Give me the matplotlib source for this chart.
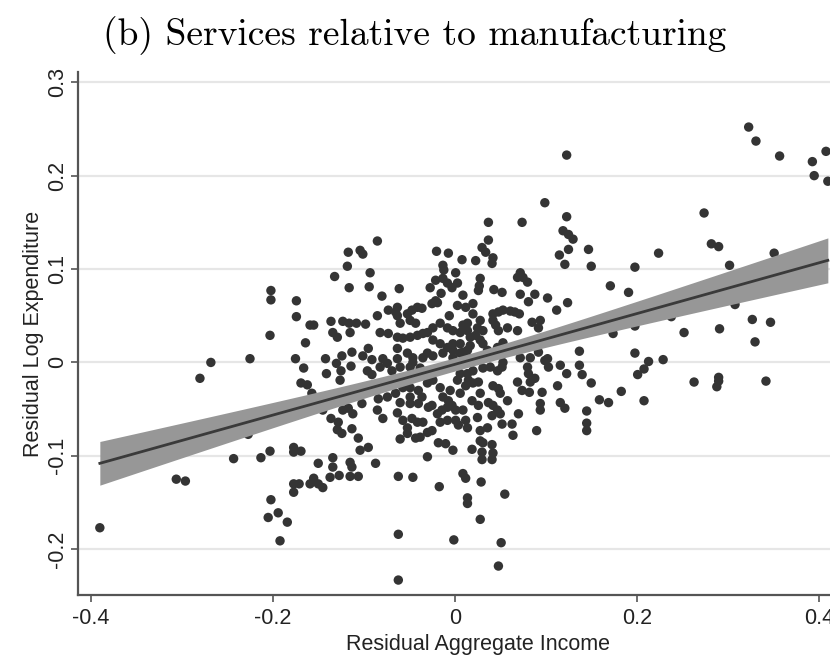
import numpy as np
import matplotlib
matplotlib.use("Agg")
import matplotlib.pyplot as plt

# ---- data ----
income = [
 -0.202,-0.202,-0.174,-0.174,-0.159,-0.203,-0.164,-0.268,-0.225,-0.175,
 -0.166,-0.280,-0.169,-0.162,-0.227,-0.203,-0.213,-0.243,-0.177,-0.177,
 -0.169,-0.306,-0.296,-0.177,-0.171,-0.177,-0.159,-0.202,-0.194,-0.205,
 -0.184,-0.192,-0.390,
 -0.085,-0.117,-0.104,-0.101,-0.020,-0.007,0.008,-0.118,-0.013,-0.012,
 0.001,-0.132,-0.093,-0.116,-0.094,-0.061,-0.027,-0.021,-0.013,-0.008,
 -0.003,0.003,-0.015,-0.021,-0.025,0.009,0.012,-0.080,-0.155,-0.136,
 -0.134,-0.129,-0.123,-0.116,-0.108,-0.098,-0.115,-0.085,-0.073,-0.065,
 -0.063,-0.052,-0.047,-0.041,-0.036,-0.049,-0.043,-0.019,-0.006,-0.082,
 -0.073,-0.063,-0.057,-0.049,-0.041,-0.035,-0.030,-0.016,-0.008,-0.002,
 0.006,0.014,0.014,-0.024,-0.016,-0.008,-0.002,0.006,-0.142,-0.124,
 -0.113,-0.101,-0.095,-0.079,-0.063,-0.046,-0.030,-0.130,-0.091,-0.141,
 -0.125,-0.114,-0.126,-0.096,-0.091,-0.082,-0.074,-0.069,-0.046,-0.035,
 -0.024,-0.013,-0.002,0.009,-0.157,-0.145,-0.136,-0.123,-0.117,-0.112,
 -0.102,-0.128,-0.124,-0.129,-0.113,-0.106,-0.095,-0.104,-0.087,-0.085,
 -0.079,-0.084,-0.074,-0.065,-0.060,-0.063,-0.057,-0.052,-0.047,-0.041,
 -0.035,-0.049,-0.040,-0.036,-0.060,-0.052,-0.043,-0.038,-0.030,-0.025,
 -0.029,-0.025,-0.019,-0.014,-0.030,-0.024,-0.016,-0.049,-0.040,-0.013,
 -0.007,-0.003,-0.008,0.001,-0.016,-0.008,0.001,0.004,0.009,0.014,
 -0.018,-0.010,-0.002,-0.030,-0.150,-0.134,-0.134,-0.115,-0.113,-0.155,
 -0.150,-0.145,-0.137,-0.127,-0.115,-0.106,-0.062,-0.046,-0.017,0.009,
 0.012,0.014,0.014,-0.062,-0.001,-0.062,
 0.123,0.099,0.037,0.074,0.123,0.119,0.125,0.130,0.037,0.125,
 0.147,0.030,0.034,0.042,0.041,0.023,0.115,0.121,0.150,0.028,
 0.027,0.026,0.072,0.075,0.069,0.080,0.171,0.191,0.043,0.052,
 0.072,0.081,0.088,0.102,0.124,0.112,0.020,0.020,0.028,0.025,
 0.042,0.048,0.053,0.061,0.066,0.071,0.042,0.045,0.048,0.058,
 0.069,0.085,0.094,0.092,0.009,0.017,0.023,0.028,0.031,0.006,
 0.014,0.009,0.174,0.137,0.072,0.083,0.092,0.102,0.017,0.028,
 0.009,0.031,0.039,0.052,0.053,0.080,0.081,0.088,0.083,0.099,
 0.103,0.116,0.123,0.137,0.140,0.150,0.183,0.159,0.169,0.113,
 0.096,0.069,0.074,0.082,0.006,0.014,0.015,0.020,0.026,0.012,
 0.042,0.048,0.050,0.028,0.006,0.019,0.026,0.037,0.042,0.047,
 0.050,0.041,0.012,0.025,0.028,0.036,0.094,0.094,0.116,0.121,
 0.070,0.052,0.063,0.064,0.090,0.145,0.145,0.145,0.028,0.031,
 0.041,0.019,0.030,0.030,0.042,0.041,0.029,0.055,0.028,0.051,
 0.048,
 0.323,0.331,0.357,0.393,0.408,0.395,0.410,0.274,0.282,0.290,
 0.224,0.351,0.198,0.302,0.308,0.238,0.198,0.252,0.291,0.327,
 0.347,0.330,0.198,0.213,0.208,0.201,0.229,0.208,0.263,0.290,
 0.290,0.288,0.342,
 -0.063,-0.060,0.003,-0.024,0.031,-0.063,-0.052,-0.002,0.017,0.036,
 0.047,0.053,-0.060,-0.049,-0.038,-0.057,-0.049,-0.005,0.003,0.020,
 0.047,0.058,
]
expenditure = [
 0.077,0.067,0.066,0.049,0.040,0.029,0.021,0.000,0.004,0.004,
 -0.006,-0.017,-0.022,-0.024,-0.077,-0.095,-0.102,-0.103,-0.091,-0.096,
 -0.095,-0.125,-0.127,-0.130,-0.130,-0.139,-0.130,-0.147,-0.161,-0.166,
 -0.171,-0.191,-0.177,
 0.130,0.118,0.120,0.116,0.119,0.117,0.110,0.103,0.104,0.099,
 0.096,0.092,0.096,0.080,0.081,0.079,0.080,0.088,0.090,0.085,
 0.080,0.085,0.074,0.066,0.063,0.072,0.059,0.071,0.040,0.044,
 0.032,0.027,0.044,0.042,0.042,0.041,0.032,0.050,0.056,0.054,
 0.050,0.052,0.056,0.059,0.058,0.045,0.042,0.064,0.050,0.032,
 0.031,0.027,0.026,0.027,0.029,0.031,0.032,0.042,0.037,0.034,
 0.032,0.034,0.042,0.024,0.020,0.016,0.013,0.010,0.004,0.007,
 0.011,0.007,0.015,0.004,0.004,0.005,0.010,-0.001,0.003,-0.012,
 -0.009,-0.004,-0.019,-0.009,-0.013,-0.005,-0.001,-0.009,0.000,0.005,
 0.007,0.010,0.005,0.011,-0.033,-0.051,-0.060,-0.051,-0.049,-0.055,
 -0.044,-0.064,-0.076,-0.072,-0.071,-0.081,-0.091,-0.094,-0.108,-0.051,
 -0.060,-0.039,-0.037,-0.033,-0.043,-0.054,-0.062,-0.070,-0.060,-0.064,
 -0.064,-0.037,-0.044,-0.037,-0.082,-0.076,-0.081,-0.080,-0.075,-0.073,
 -0.048,-0.046,-0.055,-0.051,-0.022,-0.019,-0.027,-0.027,-0.030,-0.037,
 -0.041,-0.046,-0.048,-0.051,-0.064,-0.062,-0.062,-0.067,-0.051,-0.070,
 -0.086,-0.087,-0.094,-0.101,-0.108,-0.102,-0.112,-0.107,-0.112,-0.124,
 -0.130,-0.134,-0.123,-0.121,-0.122,-0.122,-0.122,-0.123,-0.133,-0.119,
 -0.124,-0.145,-0.151,-0.184,-0.190,-0.233,
 0.222,0.171,0.150,0.150,0.156,0.141,0.137,0.132,0.131,0.121,
 0.121,0.123,0.118,0.112,0.106,0.109,0.115,0.105,0.103,0.090,
 0.082,0.077,0.096,0.091,0.091,0.086,0.082,0.075,0.078,0.075,
 0.073,0.065,0.073,0.069,0.064,0.056,0.063,0.052,0.045,0.037,
 0.052,0.054,0.056,0.055,0.054,0.052,0.045,0.040,0.034,0.037,
 0.034,0.043,0.045,0.037,0.040,0.027,0.029,0.024,0.020,0.020,
 0.013,0.010,0.031,0.012,0.005,0.005,0.011,0.004,0.004,0.005,
 0.002,-0.006,-0.005,-0.005,0.000,-0.005,-0.012,-0.017,-0.021,0.002,
 -0.005,-0.003,-0.012,-0.003,-0.013,-0.022,-0.031,-0.040,-0.043,-0.025,
 -0.032,-0.021,-0.030,-0.032,-0.012,-0.012,-0.019,-0.022,-0.021,-0.025,
 -0.025,-0.028,-0.033,-0.033,-0.033,-0.041,-0.046,-0.043,-0.046,-0.051,
 -0.055,-0.057,-0.062,-0.059,-0.073,-0.070,-0.044,-0.051,-0.043,-0.049,
 -0.055,-0.066,-0.066,-0.078,-0.073,-0.052,-0.065,-0.073,-0.084,-0.086,
 -0.088,-0.093,-0.096,-0.104,-0.097,-0.104,-0.128,-0.141,-0.168,-0.193,
 -0.218,
 0.252,0.237,0.221,0.215,0.226,0.200,0.194,0.160,0.127,0.124,
 0.117,0.117,0.102,0.104,0.062,0.049,0.039,0.032,0.036,0.046,
 0.043,0.022,0.010,0.001,-0.007,-0.013,0.003,-0.041,-0.021,-0.016,
 -0.020,-0.026,-0.020,
 0.059,0.042,0.061,0.037,0.034,0.015,0.010,0.020,0.018,0.013,
 0.016,0.021,-0.005,-0.005,-0.006,-0.027,-0.044,-0.030,-0.019,-0.009,
 -0.009,-0.041,
]

x_ticks = [-0.4, -0.2, 0, 0.2, 0.4]
x_ticklabels = ["-0.4", "-0.2", "0", "0.2", "0.4"]
y_ticks = [-0.2, -0.1, 0, 0.1, 0.2, 0.3]
y_ticklabels = ["-0.2", "-0.1", "0", "0.1", "0.2", "0.3"]

title = "(b) Services relative to manufacturing"
xlabel = "Residual Aggregate Income"
ylabel = "Residual Log Expenditure"

# ---- figure ----
plt.rcParams['font.family'] = ['Liberation Sans', 'DejaVu Sans']
plt.rcParams['axes.unicode_minus'] = False

x = np.asarray(income)
y = np.asarray(expenditure)

fig = plt.figure(figsize=(8.30, 6.55), dpi=100)
ax = fig.add_axes([78/830, 60/655, 800/830, (595-72)/655])
ax.set_xlim(-0.414, -0.414 + 800/910)
ax.set_ylim(-0.249, -0.249 + 523/934)

# scatter
ax.scatter(x, y, s=46, color='#343434', edgecolors='none', zorder=2)

# linear fit with 95% CI of the mean prediction (computed from the data)
n = len(x)
b1, b0 = np.polyfit(x, y, 1)
resid = y - (b0 + b1 * x)
s = np.sqrt(np.sum(resid**2) / (n - 2))
xbar = x.mean()
sxx = np.sum((x - xbar)**2)
xg = np.linspace(x.min(), x.max(), 200)
yg = b0 + b1 * xg
se = s * np.sqrt(1.0 / n + (xg - xbar)**2 / sxx)
ax.fill_between(xg, yg - 1.96 * se, yg + 1.96 * se, color='#979797', lw=0, zorder=3)
ax.plot(xg, yg, color='#3a3a3a', lw=2.0, zorder=4)

# styling
ax.set_xticks(x_ticks)
ax.set_xticklabels(x_ticklabels, fontsize=15.5, color='#222222')
ax.set_yticks(y_ticks)
ax.set_yticklabels(y_ticklabels, fontsize=15.5, color='#222222', rotation=90, va='center')
ax.yaxis.grid(True, color='#e6e6e6', lw=1.6, zorder=0)
ax.xaxis.grid(False)
ax.set_axisbelow(True)
for side in ['top', 'right']:
    ax.spines[side].set_visible(False)
for side in ['left', 'bottom']:
    ax.spines[side].set_color('#555555')
    ax.spines[side].set_linewidth(1.6)
ax.tick_params(axis='x', direction='out', length=5, width=1.2, color='#555555', pad=4)
ax.tick_params(axis='y', direction='out', length=5, width=1.2, color='#555555', pad=2)

ax.set_xlabel(xlabel, fontsize=15.5, color='#222222', labelpad=4)
ax.set_ylabel(ylabel, fontsize=15.5, color='#222222', labelpad=2)

fig.text(0.5, 1 - 36/655, title, ha='center', va='center', fontsize=27,
         family=['cmr10', 'DejaVu Serif'])

fig.savefig('out.png', dpi=100, facecolor='white')
